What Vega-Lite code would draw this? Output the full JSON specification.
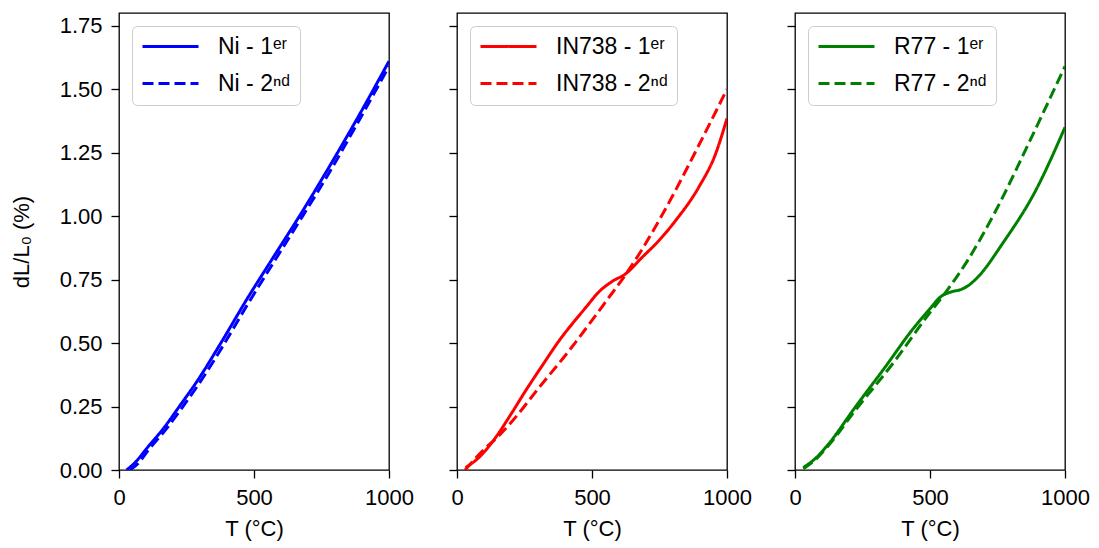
{
  "$schema": "https://vega.github.io/schema/vega-lite/v6.json",
  "padding": {"left": 9, "top": 12, "right": 5, "bottom": 5},
  "spacing": 68,
  "bounds": "flush",
  "config": {
    "font": "Liberation Sans",
    "view": {"stroke": "black", "strokeWidth": 1.3},
    "axis": {"grid": false, "domain": false, "tickColor": "black", "tickSize": 8, "tickWidth": 1.3, "labelFontSize": 22, "labelColor": "black", "titleFontSize": 22, "titleFontWeight": "normal", "titleColor": "black", "labelPadding": 9},
    "axisX": {"titlePadding": 10},
    "axisY": {"titlePadding": 26},
    "legend": {"orient": "top-left", "offset": 13, "padding": 9, "symbolType": "M-2.8,0H2.8", "symbolSize": 400, "symbolStrokeWidth": 3, "symbolOffset": 18, "labelOffset": 36, "labelFontSize": 23, "labelColor": "black", "rowPadding": 13, "strokeColor": "#cccccc", "cornerRadius": 5, "fillColor": "rgba(255,255,255,0.85)"}
  },
  "data": {"values": [
    {"alloy": "Ni", "label": "Ni - 1ᵉʳ", "T": 28, "v": 0.0},
    {"alloy": "Ni", "label": "Ni - 1ᵉʳ", "T": 60, "v": 0.03},
    {"alloy": "Ni", "label": "Ni - 1ᵉʳ", "T": 105, "v": 0.088},
    {"alloy": "Ni", "label": "Ni - 1ᵉʳ", "T": 167, "v": 0.167},
    {"alloy": "Ni", "label": "Ni - 1ᵉʳ", "T": 230, "v": 0.26},
    {"alloy": "Ni", "label": "Ni - 1ᵉʳ", "T": 290, "v": 0.351},
    {"alloy": "Ni", "label": "Ni - 1ᵉʳ", "T": 380, "v": 0.505},
    {"alloy": "Ni", "label": "Ni - 1ᵉʳ", "T": 475, "v": 0.675},
    {"alloy": "Ni", "label": "Ni - 1ᵉʳ", "T": 568, "v": 0.832},
    {"alloy": "Ni", "label": "Ni - 1ᵉʳ", "T": 680, "v": 1.02},
    {"alloy": "Ni", "label": "Ni - 1ᵉʳ", "T": 778, "v": 1.193},
    {"alloy": "Ni", "label": "Ni - 1ᵉʳ", "T": 880, "v": 1.38},
    {"alloy": "Ni", "label": "Ni - 1ᵉʳ", "T": 1000, "v": 1.61},
    {"alloy": "Ni", "label": "Ni - 2ⁿᵈ", "T": 40, "v": 0.0},
    {"alloy": "Ni", "label": "Ni - 2ⁿᵈ", "T": 70, "v": 0.025},
    {"alloy": "Ni", "label": "Ni - 2ⁿᵈ", "T": 110, "v": 0.08},
    {"alloy": "Ni", "label": "Ni - 2ⁿᵈ", "T": 170, "v": 0.155},
    {"alloy": "Ni", "label": "Ni - 2ⁿᵈ", "T": 230, "v": 0.24},
    {"alloy": "Ni", "label": "Ni - 2ⁿᵈ", "T": 290, "v": 0.33},
    {"alloy": "Ni", "label": "Ni - 2ⁿᵈ", "T": 380, "v": 0.48},
    {"alloy": "Ni", "label": "Ni - 2ⁿᵈ", "T": 475, "v": 0.65},
    {"alloy": "Ni", "label": "Ni - 2ⁿᵈ", "T": 568, "v": 0.81},
    {"alloy": "Ni", "label": "Ni - 2ⁿᵈ", "T": 680, "v": 1.0},
    {"alloy": "Ni", "label": "Ni - 2ⁿᵈ", "T": 778, "v": 1.17},
    {"alloy": "Ni", "label": "Ni - 2ⁿᵈ", "T": 880, "v": 1.36},
    {"alloy": "Ni", "label": "Ni - 2ⁿᵈ", "T": 1000, "v": 1.59},
    {"alloy": "IN738", "label": "IN738 - 1ᵉʳ", "T": 32, "v": 0.01},
    {"alloy": "IN738", "label": "IN738 - 1ᵉʳ", "T": 81, "v": 0.049},
    {"alloy": "IN738", "label": "IN738 - 1ᵉʳ", "T": 143, "v": 0.128},
    {"alloy": "IN738", "label": "IN738 - 1ᵉʳ", "T": 200, "v": 0.22},
    {"alloy": "IN738", "label": "IN738 - 1ᵉʳ", "T": 254, "v": 0.312},
    {"alloy": "IN738", "label": "IN738 - 1ᵉʳ", "T": 320, "v": 0.418},
    {"alloy": "IN738", "label": "IN738 - 1ᵉʳ", "T": 378, "v": 0.509},
    {"alloy": "IN738", "label": "IN738 - 1ᵉʳ", "T": 430, "v": 0.58},
    {"alloy": "IN738", "label": "IN738 - 1ᵉʳ", "T": 477, "v": 0.64},
    {"alloy": "IN738", "label": "IN738 - 1ᵉʳ", "T": 526, "v": 0.702},
    {"alloy": "IN738", "label": "IN738 - 1ᵉʳ", "T": 575, "v": 0.743},
    {"alloy": "IN738", "label": "IN738 - 1ᵉʳ", "T": 625, "v": 0.773},
    {"alloy": "IN738", "label": "IN738 - 1ᵉʳ", "T": 686, "v": 0.838},
    {"alloy": "IN738", "label": "IN738 - 1ᵉʳ", "T": 748, "v": 0.904},
    {"alloy": "IN738", "label": "IN738 - 1ᵉʳ", "T": 810, "v": 0.983},
    {"alloy": "IN738", "label": "IN738 - 1ᵉʳ", "T": 896, "v": 1.115},
    {"alloy": "IN738", "label": "IN738 - 1ᵉʳ", "T": 958, "v": 1.246},
    {"alloy": "IN738", "label": "IN738 - 1ᵉʳ", "T": 1000, "v": 1.385},
    {"alloy": "IN738", "label": "IN738 - 2ⁿᵈ", "T": 30, "v": 0.0},
    {"alloy": "IN738", "label": "IN738 - 2ⁿᵈ", "T": 94, "v": 0.075},
    {"alloy": "IN738", "label": "IN738 - 2ⁿᵈ", "T": 150, "v": 0.13},
    {"alloy": "IN738", "label": "IN738 - 2ⁿᵈ", "T": 205, "v": 0.193},
    {"alloy": "IN738", "label": "IN738 - 2ⁿᵈ", "T": 304, "v": 0.325},
    {"alloy": "IN738", "label": "IN738 - 2ⁿᵈ", "T": 415, "v": 0.47},
    {"alloy": "IN738", "label": "IN738 - 2ⁿᵈ", "T": 551, "v": 0.663},
    {"alloy": "IN738", "label": "IN738 - 2ⁿᵈ", "T": 631, "v": 0.78},
    {"alloy": "IN738", "label": "IN738 - 2ⁿᵈ", "T": 686, "v": 0.87},
    {"alloy": "IN738", "label": "IN738 - 2ⁿᵈ", "T": 773, "v": 1.03},
    {"alloy": "IN738", "label": "IN738 - 2ⁿᵈ", "T": 896, "v": 1.28},
    {"alloy": "IN738", "label": "IN738 - 2ⁿᵈ", "T": 1000, "v": 1.5},
    {"alloy": "R77", "label": "R77 - 1ᵉʳ", "T": 31, "v": 0.01},
    {"alloy": "R77", "label": "R77 - 1ᵉʳ", "T": 75, "v": 0.045},
    {"alloy": "R77", "label": "R77 - 1ᵉʳ", "T": 123, "v": 0.101},
    {"alloy": "R77", "label": "R77 - 1ᵉʳ", "T": 222, "v": 0.246},
    {"alloy": "R77", "label": "R77 - 1ᵉʳ", "T": 333, "v": 0.404},
    {"alloy": "R77", "label": "R77 - 1ᵉʳ", "T": 432, "v": 0.549},
    {"alloy": "R77", "label": "R77 - 1ᵉʳ", "T": 494, "v": 0.628},
    {"alloy": "R77", "label": "R77 - 1ᵉʳ", "T": 543, "v": 0.685},
    {"alloy": "R77", "label": "R77 - 1ᵉʳ", "T": 580, "v": 0.702},
    {"alloy": "R77", "label": "R77 - 1ᵉʳ", "T": 617, "v": 0.712},
    {"alloy": "R77", "label": "R77 - 1ᵉʳ", "T": 644, "v": 0.728},
    {"alloy": "R77", "label": "R77 - 1ᵉʳ", "T": 679, "v": 0.762},
    {"alloy": "R77", "label": "R77 - 1ᵉʳ", "T": 768, "v": 0.891},
    {"alloy": "R77", "label": "R77 - 1ᵉʳ", "T": 891, "v": 1.1},
    {"alloy": "R77", "label": "R77 - 1ᵉʳ", "T": 1000, "v": 1.35},
    {"alloy": "R77", "label": "R77 - 2ⁿᵈ", "T": 31, "v": 0.005},
    {"alloy": "R77", "label": "R77 - 2ⁿᵈ", "T": 75, "v": 0.04},
    {"alloy": "R77", "label": "R77 - 2ⁿᵈ", "T": 123, "v": 0.095},
    {"alloy": "R77", "label": "R77 - 2ⁿᵈ", "T": 222, "v": 0.233},
    {"alloy": "R77", "label": "R77 - 2ⁿᵈ", "T": 370, "v": 0.43},
    {"alloy": "R77", "label": "R77 - 2ⁿᵈ", "T": 494, "v": 0.612},
    {"alloy": "R77", "label": "R77 - 2ⁿᵈ", "T": 558, "v": 0.7},
    {"alloy": "R77", "label": "R77 - 2ⁿᵈ", "T": 642, "v": 0.83},
    {"alloy": "R77", "label": "R77 - 2ⁿᵈ", "T": 743, "v": 1.02},
    {"alloy": "R77", "label": "R77 - 2ⁿᵈ", "T": 867, "v": 1.29},
    {"alloy": "R77", "label": "R77 - 2ⁿᵈ", "T": 1000, "v": 1.59}
  ]},
  "hconcat": [
    {
      "width": 270, "height": 457,
      "transform": [{"filter": "datum.alloy === 'Ni'"}],
      "mark": {"type": "line", "strokeWidth": 3, "clip": true, "interpolate": "monotone"},
      "encoding": {
        "x": {"field": "T", "type": "quantitative", "scale": {"domain": [0, 1000], "nice": false}, "axis": {"values": [0, 500, 1000], "format": "d", "labelFlush": false, "title": "T (°C)"}},
        "y": {"field": "v", "type": "quantitative", "scale": {"domain": [0, 1.8], "nice": false}, "axis": {"values": [0, 0.25, 0.5, 0.75, 1, 1.25, 1.5, 1.75], "format": ".2f", "title": "dL/L₀ (%)"}},
        "color": {"field": "label", "type": "nominal", "scale": {"domain": ["Ni - 1ᵉʳ", "Ni - 2ⁿᵈ"], "range": ["#0000ff", "#0000ff"]}, "legend": {"title": null}},
        "strokeDash": {"field": "label", "type": "nominal", "scale": {"domain": ["Ni - 1ᵉʳ", "Ni - 2ⁿᵈ"], "range": [[1, 0], [11, 5]]}, "legend": {"title": null}}
      }
    },
    {
      "width": 270, "height": 457,
      "transform": [{"filter": "datum.alloy === 'IN738'"}],
      "mark": {"type": "line", "strokeWidth": 3, "clip": true, "interpolate": "monotone"},
      "encoding": {
        "x": {"field": "T", "type": "quantitative", "scale": {"domain": [0, 1000], "nice": false}, "axis": {"values": [0, 500, 1000], "format": "d", "labelFlush": false, "title": "T (°C)"}},
        "y": {"field": "v", "type": "quantitative", "scale": {"domain": [0, 1.8], "nice": false}, "axis": {"values": [0, 0.25, 0.5, 0.75, 1, 1.25, 1.5, 1.75], "labels": false, "title": null}},
        "color": {"field": "label", "type": "nominal", "scale": {"domain": ["IN738 - 1ᵉʳ", "IN738 - 2ⁿᵈ"], "range": ["#ff0000", "#ff0000"]}, "legend": {"title": null}},
        "strokeDash": {"field": "label", "type": "nominal", "scale": {"domain": ["IN738 - 1ᵉʳ", "IN738 - 2ⁿᵈ"], "range": [[1, 0], [11, 5]]}, "legend": {"title": null}}
      }
    },
    {
      "width": 270, "height": 457,
      "transform": [{"filter": "datum.alloy === 'R77'"}],
      "mark": {"type": "line", "strokeWidth": 3, "clip": true, "interpolate": "monotone"},
      "encoding": {
        "x": {"field": "T", "type": "quantitative", "scale": {"domain": [0, 1000], "nice": false}, "axis": {"values": [0, 500, 1000], "format": "d", "labelFlush": false, "title": "T (°C)"}},
        "y": {"field": "v", "type": "quantitative", "scale": {"domain": [0, 1.8], "nice": false}, "axis": {"values": [0, 0.25, 0.5, 0.75, 1, 1.25, 1.5, 1.75], "labels": false, "title": null}},
        "color": {"field": "label", "type": "nominal", "scale": {"domain": ["R77 - 1ᵉʳ", "R77 - 2ⁿᵈ"], "range": ["#008000", "#008000"]}, "legend": {"title": null}},
        "strokeDash": {"field": "label", "type": "nominal", "scale": {"domain": ["R77 - 1ᵉʳ", "R77 - 2ⁿᵈ"], "range": [[1, 0], [11, 5]]}, "legend": {"title": null}}
      }
    }
  ],
  "resolve": {"scale": {"color": "independent", "strokeDash": "independent"}}
}
